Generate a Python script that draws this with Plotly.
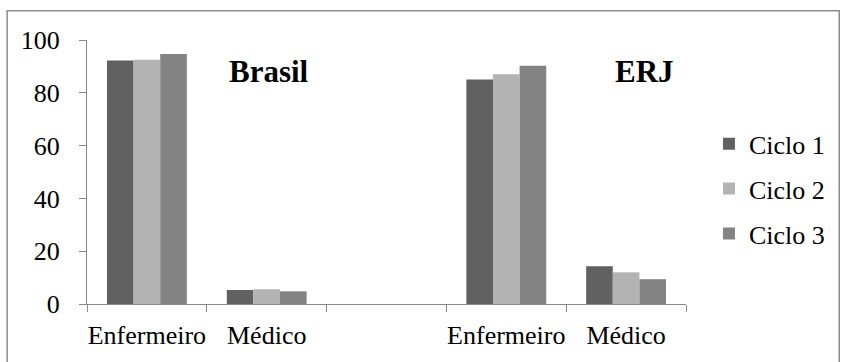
import plotly.graph_objects as go

# Professional share by cycle, Brasil vs ERJ
positions = [0, 1, 3, 4]
labels = ["Enfermeiro", "Médico", "Enfermeiro", "Médico"]
series_names = ["Ciclo 1", "Ciclo 2", "Ciclo 3"]
ciclo1 = [92.2, 5.3, 85.0, 14.3]
ciclo2 = [92.5, 5.6, 87.0, 12.0]
ciclo3 = [94.7, 4.8, 90.2, 9.4]
colors = ["#616161", "#b3b3b3", "#838383"]
y_ticks = [0, 20, 40, 60, 80, 100]
boundaries = [-0.5, 0.5, 1.5, 2.5, 3.5, 4.5]

FONT = "Liberation Serif"

fig = go.Figure()
for i, (name, vals) in enumerate(zip(series_names, [ciclo1, ciclo2, ciclo3])):
    fig.add_trace(go.Bar(
        x=positions, y=vals, name=name, marker_color=colors[i],
        marker_line_width=0, legendgroup=name,
    ))

fig.add_annotation(x=1.02, y=88.0, text="<b>Brasil</b>", showarrow=False,
                   font=dict(family=FONT, size=31, color="black"))
fig.add_annotation(x=4.15, y=88.0, text="<b>ERJ</b>", showarrow=False,
                   font=dict(family=FONT, size=31, color="black"))

# outer chart frame
fig.add_shape(type="rect", xref="paper", yref="paper",
              x0=(7 - 87) / 600, x1=(840.5 - 87) / 600,
              y0=-0.3, y1=(306 - 10.5) / 266,
              line=dict(color="#8c8c8c", width=1.5), layer="below")

fig.update_layout(
    width=842, height=362,
    margin=dict(l=87, r=155, t=40, b=56),
    paper_bgcolor="white", plot_bgcolor="white",
    barmode="group", bargap=1 / 3, bargroupgap=0,
    font=dict(family=FONT, size=26, color="black"),
    showlegend=True,
    legend=dict(x=(710 - 87) / 600, xref="paper",
                y=(306 - 121) / 266, yanchor="top",
                font=dict(family=FONT, size=26, color="black"),
                tracegroupgap=8, traceorder="grouped", itemwidth=30,
                bgcolor="rgba(0,0,0,0)"),
)

fig.update_xaxes(
    range=[-0.5, 4.5], tickvals=positions, ticktext=labels,
    ticks="", showline=True, linecolor="#888888", linewidth=1.2,
    showgrid=False, zeroline=False, ticklabelstandoff=8,
    minor=dict(tickvals=boundaries, ticks="outside", ticklen=7,
               tickcolor="#888888", tickwidth=1.2, showgrid=False),
    tickfont=dict(family=FONT, size=26, color="black"),
)
fig.update_yaxes(
    range=[0, 100], tickvals=y_ticks, ticks="outside", ticklen=7,
    tickcolor="#888888", tickwidth=1.2, showline=True, linecolor="#888888",
    linewidth=1.2, showgrid=False, zeroline=False, ticklabelstandoff=14,
    tickfont=dict(family=FONT, size=26, color="black"),
)

fig.write_html("out.html")
